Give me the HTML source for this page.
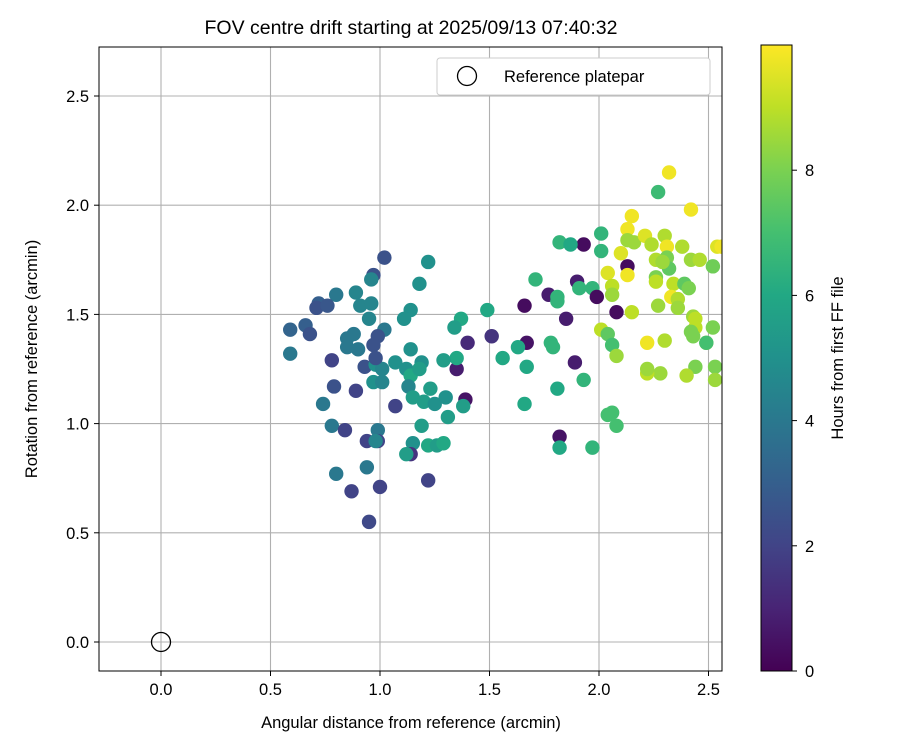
<!DOCTYPE html>
<html><head><meta charset="utf-8"><style>
body{margin:0;background:#fff}
svg text{font-family:"Liberation Sans","DejaVu Sans",sans-serif;fill:#000}
</style></head><body>
<svg id="chart" width="900" height="750" xmlns="http://www.w3.org/2000/svg">
<defs>
<linearGradient id="vir" x1="0" y1="1" x2="0" y2="0">
<stop offset="0" stop-color="#440154"/><stop offset="0.1" stop-color="#482475"/><stop offset="0.2" stop-color="#414487"/><stop offset="0.3" stop-color="#355f8d"/><stop offset="0.4" stop-color="#2a788e"/><stop offset="0.5" stop-color="#21918c"/><stop offset="0.6" stop-color="#22a884"/><stop offset="0.7" stop-color="#44bf70"/><stop offset="0.8" stop-color="#7ad151"/><stop offset="0.9" stop-color="#bddf26"/><stop offset="1" stop-color="#fde725"/>
</linearGradient>
<clipPath id="clip"><rect x="99" y="47" width="623" height="624"/></clipPath>
</defs>
<g id="grid"></g>
<g id="pts" clip-path="url(#clip)"></g>
<circle cx="161" cy="642" r="9.5" fill="none" stroke="#000" stroke-width="1.3"/>
<rect x="99" y="47" width="623" height="624" fill="none" stroke="#000" stroke-width="1"/>
<g id="ticks"></g>
<text x="411" y="34" font-size="19.5" text-anchor="middle">FOV centre drift starting at 2025/09/13 07:40:32</text>
<text x="411" y="728" font-size="16.5" text-anchor="middle">Angular distance from reference (arcmin)</text>
<text transform="translate(37,359) rotate(-90)" font-size="16.5" text-anchor="middle">Rotation from reference (arcmin)</text>
<g>
<rect x="437" y="58" width="273" height="37" rx="3" fill="#fff" stroke="#ccc" stroke-width="1"/>
<circle cx="467" cy="76" r="9.5" fill="none" stroke="#000" stroke-width="1.3"/>
<text x="504" y="82" font-size="16.5">Reference platepar</text>
</g>
<rect x="761" y="45" width="31" height="626" fill="url(#vir)" stroke="#000" stroke-width="1"/>
<g id="cbt"></g>
<text transform="translate(843,358) rotate(-90)" font-size="16.5" text-anchor="middle">Hours from first FF file</text>
</svg>
<script>
const xTicks=[0,0.5,1,1.5,2,2.5];
const xTickLabels=["0.0","0.5","1.0","1.5","2.0","2.5"];
const yTicks=[0,0.5,1,1.5,2,2.5];
const yTickLabels=["0.0","0.5","1.0","1.5","2.0","2.5"];
const cTicks=[0,2,4,6,8];
const xVals=[1.02,1.22,0.97,0.96,1.18,0.80,0.89,0.72,0.71,0.76,0.91,0.96,1.14,1.11,0.95,1.37,1.34,0.59,0.66,0.68,1.02,0.99,0.88,0.85,0.85,0.90,0.97,0.59,0.78,1.14,1.40,1.35,1.35,1.29,1.19,1.07,0.93,0.98,1.01,0.98,1.12,1.14,1.18,0.79,0.89,0.74,0.97,1.01,1.13,1.23,1.15,1.07,1.20,1.25,1.30,1.39,1.38,1.31,0.78,0.84,0.99,0.94,0.99,0.98,1.19,1.15,1.14,1.12,1.22,1.26,1.29,0.94,0.80,0.87,1.00,1.22,0.95,
1.49,1.51,1.66,1.77,1.81,1.81,1.71,1.85,1.90,1.91,1.97,1.99,1.93,1.82,1.87,2.01,1.67,1.63,1.56,1.67,1.78,1.79,1.89,1.93,1.81,1.66,1.82,1.82,1.97,2.01,2.04,2.06,2.06,2.08,2.04,2.06,2.08,2.04,2.06,2.08,
2.32,2.27,2.42,2.15,2.01,2.13,2.13,2.16,2.21,2.30,2.31,2.24,2.38,2.54,2.10,2.26,2.31,2.32,2.29,2.42,2.46,2.52,2.13,2.13,2.26,2.26,2.34,2.39,2.41,2.33,2.36,2.36,2.27,2.15,2.22,2.30,2.43,2.44,2.44,2.42,2.43,2.52,2.49,2.49,2.44,2.53,2.53,2.40,2.28,2.22,2.22,2.56];
const yVals=[1.76,1.74,1.68,1.66,1.64,1.59,1.60,1.55,1.53,1.54,1.54,1.55,1.52,1.48,1.48,1.48,1.44,1.43,1.45,1.41,1.43,1.40,1.41,1.39,1.35,1.34,1.36,1.32,1.29,1.34,1.37,1.25,1.30,1.29,1.28,1.28,1.26,1.27,1.25,1.30,1.25,1.22,1.25,1.17,1.15,1.09,1.19,1.19,1.17,1.16,1.12,1.08,1.10,1.09,1.12,1.11,1.08,1.03,0.99,0.97,0.97,0.92,0.92,0.92,0.99,0.91,0.86,0.86,0.90,0.90,0.91,0.80,0.77,0.69,0.71,0.74,0.55,
1.52,1.40,1.54,1.59,1.58,1.56,1.66,1.48,1.65,1.62,1.62,1.58,1.82,1.83,1.82,1.79,1.37,1.35,1.30,1.26,1.37,1.35,1.28,1.20,1.16,1.09,0.94,0.89,0.89,1.43,1.69,1.63,1.59,1.51,1.41,1.36,1.31,1.04,1.05,0.99,
2.15,2.06,1.98,1.95,1.87,1.89,1.84,1.83,1.86,1.86,1.81,1.82,1.81,1.81,1.78,1.75,1.76,1.71,1.74,1.75,1.75,1.72,1.72,1.68,1.67,1.65,1.64,1.64,1.62,1.58,1.57,1.53,1.54,1.51,1.37,1.38,1.49,1.48,1.44,1.42,1.40,1.44,1.37,1.37,1.26,1.26,1.20,1.22,1.23,1.23,1.25,1.81];
const hours=[2.5,5,2.5,4.5,5,4,4.5,3,2.5,2.7,4.5,4.5,5,5,4.5,6,5.5,3.2,3,2.5,4,2.5,4,4,4,4,2.5,4,2,5,1.2,0.8,6,5.5,5,5,2.5,5,4.5,2.5,5,6,5.5,2.5,2,4,5,4.5,4.5,5.5,5.5,2,5.5,5,5,0.5,5.5,5.5,4,2,4,2,2,4.5,5.5,5,1.5,5.5,6,5.5,6,4,4,2,2,2,2.2,
6,1.5,0.3,0.8,6.5,6.5,6.5,0.8,0.8,6.5,6.5,0.3,0.3,6.5,6,6.5,0.5,6,6,6,6.5,6.5,0.8,6.5,6,6,0.5,6,6.5,9,9.5,9,8.5,0.3,7.5,7,8.5,7,7,7,
9.8,6.8,9.8,9.8,6.5,9.8,8.5,8.5,9.5,8.8,9.8,8.8,8.8,9.5,9.5,8.8,8,7.5,8.5,8.5,8.8,7.8,0.3,9.8,8,9,9,7.5,8,9.8,8.8,8.5,8.5,9,9.8,8.8,8.5,9,9,8,8,8,8.8,7,8,8,8.5,8.8,8.5,9,8.5,9.8];
const X0=161,XU=219,Y0=642,YU=218.4,CB0=671,CBU=62.6,HMAX=10;
const sx=v=>X0+v*XU, sy=v=>Y0-v*YU, sc=h=>CB0-h*CBU;
const vir=["#440154","#482475","#414487","#355f8d","#2a788e","#21918c","#22a884","#44bf70","#7ad151","#bddf26","#fde725"];
function hx(c){return [1,3,5].map(i=>parseInt(c.substr(i,2),16));}
function color(h){let t=Math.max(0,Math.min(1,h/HMAX))*10;let i=Math.min(9,Math.floor(t));let f=t-i;let a=hx(vir[i]),b=hx(vir[i+1]);return "rgb("+a.map((v,k)=>Math.round(v+(b[k]-v)*f)).join(",")+")";}
const NS="http://www.w3.org/2000/svg";
function mk(t,at,p){const e=document.createElementNS(NS,t);for(const k in at)e.setAttribute(k,at[k]);p.appendChild(e);return e;}
const grid=document.getElementById('grid'),ticks=document.getElementById('ticks');
xTicks.forEach((v,i)=>{
 const l=mk('line',{x1:sx(v),x2:sx(v),y1:47,y2:671,stroke:'#b0b0b0','stroke-width':1.1},grid);
 
 
 mk('line',{x1:sx(v),x2:sx(v),y1:671,y2:676,stroke:'#000'},ticks);
 const t=mk('text',{x:sx(v),y:695,'font-size':16.5,'text-anchor':'middle'},ticks);
 
 
 t.textContent=xTickLabels[i];
});
yTicks.forEach((v,i)=>{
 const l=mk('line',{x1:99,x2:722,y1:sy(v),y2:sy(v),stroke:'#b0b0b0','stroke-width':1.1},grid);
 
 
 mk('line',{x1:94,x2:99,y1:sy(v),y2:sy(v),stroke:'#000'},ticks);
 const t=mk('text',{x:89,y:sy(v)+6,'font-size':16.5,'text-anchor':'end'},ticks);
 
 
 t.textContent=yTickLabels[i];
});
const cbt=document.getElementById('cbt');
cTicks.forEach(v=>{
 mk('line',{x1:792,x2:797,y1:sc(v),y2:sc(v),stroke:'#000'},cbt);
 const t=mk('text',{x:805,y:sc(v)+6,'font-size':16.5},cbt);
 
 
 t.textContent=String(v);
});
const pts=document.getElementById('pts');
const order=hours.map((h,i)=>i);
order.forEach(i=>{
 const c=mk('circle',{cx:sx(xVals[i]),cy:sy(yVals[i]),r:7.2,fill:color(hours[i])},pts);
 
 
});
</script>
</body></html>
